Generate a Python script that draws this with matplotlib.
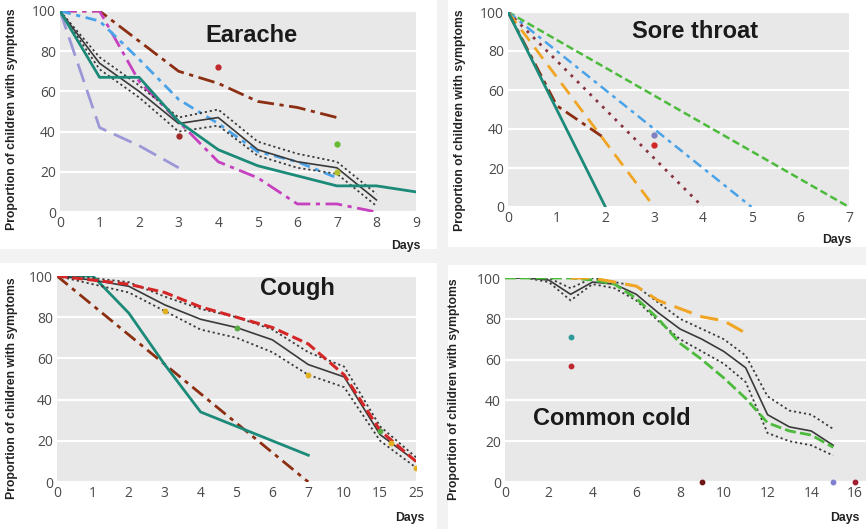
import matplotlib
matplotlib.use("Agg")
import matplotlib.pyplot as plt
from matplotlib.patches import Rectangle

# ---- Earache (days 0-9) ----
ear_days = [0, 1, 2, 3, 4, 5, 6, 7, 8, 9]
ear_brown = [100, 100, 85, 70, 64, 55, 52, 47]
ear_blue = [100, 95, 76, 56, 44, 30, 25, 17]
ear_magenta = [100, 100, 65, 45, 25, 17, 4, 4, 0]
ear_lavender = [100, 42, 33, 22]
ear_teal = [100, 67, 67, 45, 31, 23, 18, 13, 13, 10]
ear_mean = [100, 74, 60, 44, 47, 31, 25, 22, 6]
ear_upper = [100, 77, 63, 47, 51, 35, 29, 25, 9]
ear_lower = [100, 71, 57, 40, 43, 28, 22, 19, 3]
ear_dots = [(4, 72, "#c0282d"), (3, 38, "#a02828"), (7, 34, "#66bb33"), (7, 20, "#b5c030")]

# ---- Sore throat (days 0-7) ----
st_teal = ([0, 2], [100, 0])
st_orange = ([0, 3], [100, 0])
st_brown = ([0, 1, 2], [100, 52, 35])
st_maroon = ([0, 4], [100, 0])
st_blue = ([0, 5], [100, 0])
st_green = ([0, 7], [100, 0])
st_dots = [(3, 37, "#8080c0"), (3, 32, "#d02828")]

# ---- Cough (categorical day labels) ----
cough_labels = ["0", "1", "2", "3", "4", "5", "6", "7", "10", "15", "25"]
cough_red = [100, 98, 96, 92, 85, 80, 75, 67, 52, 25, 10]
cough_mean = [100, 98, 95, 86, 79, 75, 69, 57, 51, 23, 10]
cough_upper = [100, 99, 97, 90, 84, 80, 74, 63, 56, 27, 12]
cough_lower = [100, 96, 92, 83, 74, 70, 63, 52, 46, 20, 7]
cough_teal = [100, 100, 82, 57, 34, 27, 20, 13]
cough_brown = ([0, 7], [100, 0])
cough_dots = [(3, 83, "#e0b020"), (7, 52, "#e0b020"), (5, 75, "#55aa44"),
              (9, 25, "#55aa44"), (9.3, 19, "#e0b020"), (10, 7, "#e0b020")]

# ---- Common cold (days 0-16) ----
cold_days = list(range(16))
cold_mean = [100, 100, 99, 92, 98, 97, 92, 83, 75, 70, 64, 56, 33, 27, 25, 18]
cold_upper = [100, 100, 100, 95, 100, 98, 96, 88, 80, 75, 70, 62, 42, 35, 33, 26]
cold_lower = [100, 100, 98, 89, 97, 95, 89, 79, 70, 64, 58, 49, 24, 20, 18, 13]
cold_green = [100, 100, 100, 100, 99, 97, 90, 80, 68, 60, 51, 41, 29, 25, 23, 17]
cold_orange_days = [3, 4, 5, 6, 7, 8, 9, 10, 11]
cold_orange = [100, 100, 98, 96, 89, 85, 81, 79, 73]
cold_dots = [(3, 71, "#2a9a9a"), (3, 57, "#c02830"), (9, 0, "#701818"),
             (15, 0, "#8080d0"), (16, 0, "#a02030")]

TEAL = "#1b8a78"
BROWN = "#8b2e12"
BLUE = "#4aa3e8"
MAGENTA = "#c640c0"
LAVENDER = "#9c98d8"
ORANGE = "#f0a524"
MAROON = "#8a3340"
GREEN = "#4cbb3c"
RED = "#d42626"
DARK = "#3a3a3a"

W, H = 866, 529
fig = plt.figure(figsize=(W / 100, H / 100), dpi=100, facecolor="#f2f2f2")

# white panel backgrounds of the collage
for x0, y0, x1, y1 in [(0, 0, 437, 249), (448, 0, 866, 247),
                       (0, 263, 437, 529), (448, 265, 866, 529)]:
    fig.patches.append(Rectangle((x0 / W, 1 - y1 / H), (x1 - x0) / W, (y1 - y0) / H,
                                 transform=fig.transFigure, facecolor="white",
                                 edgecolor="none", zorder=-5))


def make_ax(left, right, top, bottom):
    ax = fig.add_axes([left / W, 1 - bottom / H, (right - left) / W, (bottom - top) / H])
    ax.set_zorder(2)
    ax.set_facecolor("#e8e8e8")
    for s in ax.spines.values():
        s.set_visible(False)
    ax.set_ylim(0, 100)
    ax.set_yticks([0, 20, 40, 60, 80, 100])
    ax.grid(axis="y", color="white", linewidth=1.6)
    ax.set_axisbelow(True)
    ax.tick_params(length=0, labelsize=10, labelcolor="#4a4a4a", pad=3)
    for lab in ax.get_xticklabels() + ax.get_yticklabels():
        lab.set_fontfamily("Open Sans")
    return ax


def decorate(ax, title, tx, ty, lx, ly, dx, dy):
    ax.text(tx, ty, title, fontsize=17, fontweight="bold", family="Liberation Sans",
            color="#1a1a1a", ha="center", va="center")
    ax.set_ylabel("Proportion of children with symptoms", fontsize=8.8, fontweight="bold",
                  family="Liberation Sans", color="#222222")
    ax.yaxis.set_label_coords(lx, ly)
    ax.text(dx, dy, "Days", transform=ax.transAxes, fontsize=8.8, fontweight="bold",
            family="Liberation Sans", color="#222222", ha="center", va="center")


def ci(ax, x, mean, upper, lower):
    ax.plot(x[:len(upper)], upper, color=DARK, linestyle=(0, (1.2, 1.6)), linewidth=1.3)
    ax.plot(x[:len(lower)], lower, color=DARK, linestyle=(0, (1.2, 1.6)), linewidth=1.3)
    ax.plot(x[:len(mean)], mean, color=DARK, linewidth=1.2)


# ---- Earache ----
ax1 = make_ax(60, 416, 11, 212)
ax1.set_xlim(0, 9)
ax1.set_xticks(ear_days)
ax1.plot(ear_days[:len(ear_brown)], ear_brown, color=BROWN, linestyle=(0, (6, 2, 1.5, 2)), linewidth=2)
ax1.plot(ear_days[:len(ear_lavender)], ear_lavender, color=LAVENDER, linestyle=(0, (7, 3)), linewidth=2)
ax1.plot(ear_days[:len(ear_magenta)], ear_magenta, color=MAGENTA, linestyle=(0, (6, 2, 1.5, 2)), linewidth=2)
ax1.plot(ear_days[:len(ear_blue)], ear_blue, color=BLUE, linestyle=(0, (4, 2, 1.5, 2)), linewidth=2)
ci(ax1, ear_days, ear_mean, ear_upper, ear_lower)
ax1.plot(ear_days, ear_teal, color=TEAL, linewidth=2)
for x, y, c in ear_dots:
    ax1.plot(x, y, "o", color=c, markersize=3.5)
decorate(ax1, "Earache", 4.85, 88, -0.118, 0.46, 0.972, -0.17)

# ---- Sore throat ----
ax2 = make_ax(508, 849, 12, 207)
ax2.set_xlim(0, 7)
ax2.set_xticks(range(8))
ax2.plot(*st_green, color=GREEN, linestyle=(0, (3, 1.5)), linewidth=1.8)
ax2.plot(*st_blue, color=BLUE, linestyle=(0, (4, 2, 1.5, 2)), linewidth=1.8)
ax2.plot(*st_maroon, color=MAROON, linestyle=(0, (1, 2.2)), linewidth=2)
ax2.plot(*st_orange, color=ORANGE, linestyle=(0, (5, 3)), linewidth=2)
ax2.plot(*st_brown, color=BROWN, linestyle=(0, (5, 2, 1.5, 2)), linewidth=2)
ax2.plot(*st_teal, color=TEAL, linewidth=2)
for x, y, c in st_dots:
    ax2.plot(x, y, "o", color=c, markersize=3.5)
decorate(ax2, "Sore throat", 3.84, 90, -0.123, 0.446, 0.965, -0.17)

# ---- Cough ----
ax3 = make_ax(57, 416, 276, 482)
cough_x = list(range(len(cough_labels)))
ax3.set_xlim(0, 10)
ax3.set_xticks(cough_x)
ax3.set_xticklabels(cough_labels, fontfamily="Open Sans")
ax3.plot(*cough_brown, color=BROWN, linestyle=(0, (5, 2, 1.5, 2)), linewidth=2)
ax3.plot(cough_x[:len(cough_teal)], cough_teal, color=TEAL, linewidth=2)
ci(ax3, cough_x, cough_mean, cough_upper, cough_lower)
ax3.plot(cough_x, cough_red, color=RED, linestyle=(0, (3.5, 1.5)), linewidth=2.2)
for x, y, c in cough_dots:
    ax3.plot(x, y, "o", color=c, markersize=3.2)
decorate(ax3, "Cough", 6.69, 94, -0.109, 0.456, 0.983, -0.175)

# ---- Common cold ----
ax4 = make_ax(505, 866, 278, 482)
ax4.set_xlim(0, 16.5)
ax4.set_xticks(range(0, 17, 2))
ci(ax4, cold_days, cold_mean, cold_upper, cold_lower)
ax4.plot(cold_days, cold_green, color=GREEN, linestyle=(0, (4, 1.5)), linewidth=2)
ax4.plot(cold_orange_days, cold_orange, color=ORANGE, linestyle=(0, (6, 3)), linewidth=2.2)
for x, y, c in cold_dots:
    ax4.plot(x, y, "o", color=c, markersize=3.2, clip_on=False, zorder=5)
decorate(ax4, "Common cold", 4.86, 31, -0.124, 0.456, 0.94, -0.176)

fig.savefig("out.png", dpi=100, facecolor=fig.get_facecolor())
